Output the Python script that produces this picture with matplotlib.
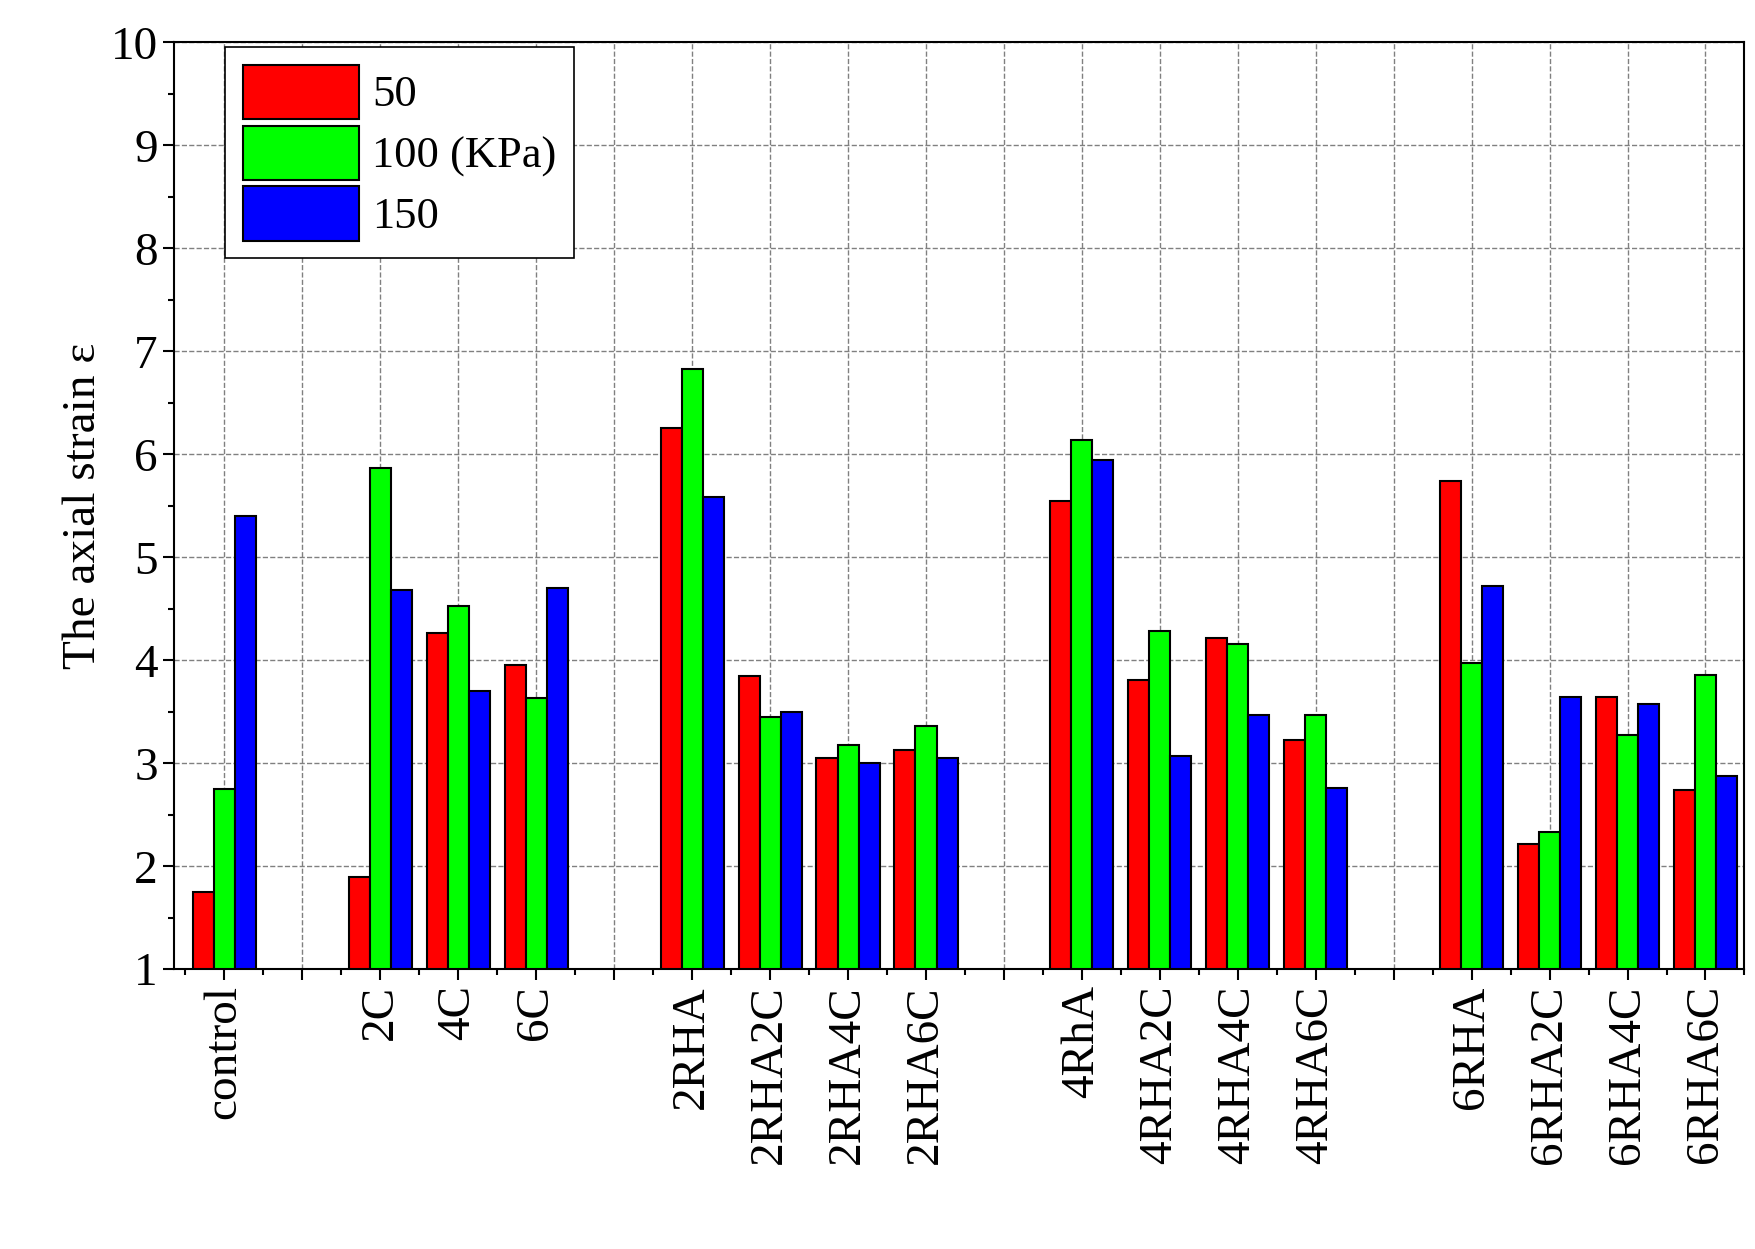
import numpy as np
import matplotlib
matplotlib.use("Agg")
import matplotlib.pyplot as plt
from matplotlib.ticker import MultipleLocator

plt.rcParams["font.family"] = ["Liberation Serif", "DejaVu Serif"]

labels = ["control", "2C", "4C", "6C", "2RHA", "2RHA2C", "2RHA4C", "2RHA6C",
          "4RhA", "4RHA2C", "4RHA4C", "4RHA6C", "6RHA", "6RHA2C", "6RHA4C", "6RHA6C"]
slots = [0, 2, 3, 4, 6, 7, 8, 9, 11, 12, 13, 14, 16, 17, 18, 19]
s50 = [1.75, 1.90, 4.27, 3.95, 6.26, 3.85, 3.05, 3.13, 5.55, 3.81, 4.22, 3.23, 5.74, 2.22, 3.64, 2.74]
s100 = [2.75, 5.87, 4.53, 3.63, 6.83, 3.45, 3.18, 3.36, 6.14, 4.28, 4.16, 3.47, 3.97, 2.33, 3.27, 3.86]
s150 = [5.40, 4.68, 3.70, 4.70, 5.59, 3.50, 3.00, 3.05, 5.95, 3.07, 3.47, 2.76, 4.72, 3.64, 3.58, 2.88]

fig = plt.figure(figsize=(17.55, 12.49), dpi=100)
ax = fig.add_axes([0.099, 0.224, 0.895, 0.742])

x = np.array(slots, dtype=float)
w = 0.27
kw = dict(width=w, bottom=1, edgecolor="black", linewidth=1.5, zorder=3)
ax.bar(x - w, np.array(s50) - 1, color="#ff0000", label="50", **kw)
ax.bar(x, np.array(s100) - 1, color="#00ff00", label="100 (KPa)", **kw)
ax.bar(x + w, np.array(s150) - 1, color="#0000ff", label="150", **kw)

ax.set_xlim(-0.65, 19.5)
ax.set_ylim(1, 10)
ax.set_xticks(range(20))
ax.set_xticklabels([labels[slots.index(i)] if i in slots else "" for i in range(20)],
                   rotation=90, fontsize=34)
ax.xaxis.set_minor_locator(MultipleLocator(0.5))
ax.yaxis.set_major_locator(MultipleLocator(1))
ax.yaxis.set_minor_locator(MultipleLocator(0.5))
ax.tick_params(axis="y", labelsize=34)
ax.tick_params(which="major", direction="out", length=8, width=1.5)
ax.tick_params(which="minor", direction="out", length=4, width=1.5)
ax.grid(True, linestyle="--", color="gray", linewidth=1, zorder=0)
ax.set_axisbelow(True)
for s in ax.spines.values():
    s.set_linewidth(1.5)
ax.set_ylabel("The axial strain ε", fontsize=34)

leg = ax.legend(loc="upper left", bbox_to_anchor=(0.03, 1.0), fontsize=32,
                handlelength=2.6, handleheight=1.5, fancybox=False,
                edgecolor="black", framealpha=1, borderaxespad=0.1,
                handletextpad=0.3, labelspacing=0.15)
leg.get_frame().set_linewidth(1.2)

fig.savefig("out.png", dpi=100)
